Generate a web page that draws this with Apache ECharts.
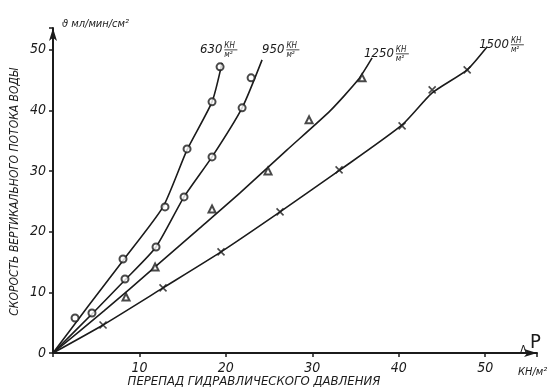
<!DOCTYPE html>
<html>
<head>
<meta charset="utf-8">
<script src="https://cdn.jsdelivr.net/npm/echarts@6/dist/echarts.min.js"></script>
<style>
  html, body { margin: 0; background: #fff; }
  #chart { width: 553px; height: 390px; }
</style>
</head>
<body>
<div id="chart"></div>
<script>
// pressure curves, kN/m2
const curveNames = ['630', '950', '1250', '1500'];

// drawn curves, [dP, v]
const line630 = [[0, 0], [4.17, 7.92], [8.33, 15.68], [12.73, 24.09], [15.51, 33.5], [18.4, 41.42], [19.56, 47.85]];
const line950 = [[0, 0], [4.51, 6.44], [8.33, 12.05], [11.92, 17.49], [15.16, 25.74], [18.4, 32.34], [21.88, 40.43], [24.19, 48.35]];
const line1250 = [[0, 0], [5.9, 6.93], [11.81, 14.19], [17.01, 20.63], [21.64, 26.4], [27.08, 33.5], [32.06, 39.93], [35.3, 45.05], [36.92, 48.68]];
const line1500 = [[0, 0], [5.79, 4.62], [12.73, 10.73], [19.44, 16.67], [26.27, 23.27], [33.22, 30.2], [40.39, 37.62], [43.87, 42.9], [47.92, 46.7], [50.23, 50.5]];

// measured points
const pts630 = [[2.55, 5.78], [8.1, 15.51], [12.96, 24.09], [15.51, 33.66], [18.4, 41.42], [19.33, 47.19]];
const pts950 = [[4.51, 6.6], [8.33, 12.21], [11.92, 17.49], [15.16, 25.74], [18.4, 32.34], [21.88, 40.43], [22.92, 45.38]];
const pts1250 = [[8.45, 9.24], [11.81, 14.19], [18.4, 23.76], [24.88, 30.03], [29.63, 38.45], [35.76, 45.38]];
const pts1500 = [[5.79, 4.62], [12.73, 10.73], [19.44, 16.67], [26.27, 23.27], [33.1, 30.2], [40.39, 37.46], [43.87, 43.4], [47.92, 46.7]];

const xTicks = [10, 20, 30, 40, 50];
const yTicks = [0, 10, 20, 30, 40, 50];

const INK = '#1b1b1b';
const HAND = "'DejaVu Sans Condensed', 'DejaVu Sans', sans-serif";
const crossPath = 'path://M0,0L10,10M10,0L0,10';

const lines = [line630, line950, line1250, line1500];
const points = [pts630, pts950, pts1250, pts1500];
const symbols = ['emptyCircle', 'emptyCircle', 'emptyTriangle', crossPath];

const chart = echarts.init(document.getElementById('chart'));

const axisCommon = {
    type: 'value',
    min: 0,
    interval: 10,
    splitLine: { show: false },
    axisLine: {
        onZero: false,
        symbol: ['none', 'arrow'],
        symbolSize: [6, 13],
        lineStyle: { color: INK, width: 2 },
    },
    axisTick: { length: 4, lineStyle: { color: INK, width: 1.5 } },
};

const tickLabel = {
    color: INK,
    fontFamily: HAND,
    fontStyle: 'italic',
    fontSize: 14,
};

const series = [];
lines.forEach((d, i) => {
    series.push({
        name: curveNames[i],
        type: 'line',
        data: d,
        smooth: 0.2,
        showSymbol: false,
        silent: true,
        lineStyle: { color: INK, width: 1.6 },
    });
});
points.forEach((d, i) => {
    series.push({
        name: curveNames[i] + ' pts',
        type: 'scatter',
        data: d,
        symbol: symbols[i],
        symbolSize: 7,
        itemStyle: {
            color: i === 3 ? 'none' : INK,
            borderColor: INK,
            borderWidth: i === 3 ? 1.6 : 1.3,
        },
        z: 3,
    });
});

chart.setOption({
    animation: false,
    backgroundColor: '#fff',
    grid: { left: 53, right: 16, top: 28, bottom: 37, outerBoundsMode: 'none' },
    xAxis: {
        ...axisCommon,
        max: 56,
        axisLabel: { ...tickLabel, margin: 8, formatter: v => (xTicks.includes(v) ? String(v) : '') },
    },
    yAxis: {
        ...axisCommon,
        max: 53.6,
        axisLabel: { ...tickLabel, margin: 7, formatter: v => (yTicks.includes(v) ? String(v) : '') },
    },
    series,
});

// text furniture
const ctx = document.createElement('canvas').getContext('2d');
const measure = (txt, size) => {
    ctx.font = `italic ${size}px ${HAND}`;
    return ctx.measureText(txt).width;
};

const labelOffsets = [[-22, -13], [0, -10], [-8, -4], [-8, -2]];
const graphics = [];
lines.forEach((d, i) => {
    const end = chart.convertToPixel({ gridIndex: 0 }, d[d.length - 1]);
    const x = end[0] + labelOffsets[i][0];
    const y = end[1] + labelOffsets[i][1];
    const w = measure(curveNames[i], 13);
    graphics.push(
        { type: 'text', x, y, style: { text: curveNames[i], fill: INK, font: `italic 13px ${HAND}`, verticalAlign: 'middle' } },
        { type: 'text', x: x + w + 2, y: y - 4, style: { text: 'КН', fill: INK, font: `italic 8px ${HAND}`, verticalAlign: 'middle' } },
        { type: 'line', shape: { x1: x + w + 2, y1: y, x2: x + w + 15, y2: y }, style: { stroke: INK, lineWidth: 0.8 } },
        { type: 'text', x: x + w + 2, y: y + 5, style: { text: 'м²', fill: INK, font: `italic 8px ${HAND}`, verticalAlign: 'middle' } }
    );
});

graphics.push(
    { type: 'text', x: 62, y: 24, style: { text: 'ϑ мл/мин/см²', fill: INK, font: `italic 11px ${HAND}`, verticalAlign: 'middle' } },
    { type: 'text', x: 15, y: 192, rotation: Math.PI / 2, style: { text: 'СКОРОСТЬ ВЕРТИКАЛЬНОГО ПОТОКА ВОДЫ', fill: INK, font: `italic 12px ${HAND}`, align: 'center', verticalAlign: 'middle' } },
    { type: 'text', x: 254, y: 382, style: { text: 'ПЕРЕПАД ГИДРАВЛИЧЕСКОГО ДАВЛЕНИЯ', fill: INK, font: `italic 13px ${HAND}`, align: 'center', verticalAlign: 'middle' } },
    { type: 'text', x: 520, y: 350, style: { text: 'Δ', fill: INK, font: `11px ${HAND}`, verticalAlign: 'middle' } },
    { type: 'text', x: 530, y: 343, style: { text: 'P', fill: INK, font: `20px ${HAND}`, verticalAlign: 'middle' } },
    { type: 'text', x: 518, y: 372, style: { text: 'КН/м²', fill: INK, font: `italic 11px ${HAND}`, verticalAlign: 'middle' } }
);

chart.setOption({ graphic: graphics });
</script>
</body>
</html>
